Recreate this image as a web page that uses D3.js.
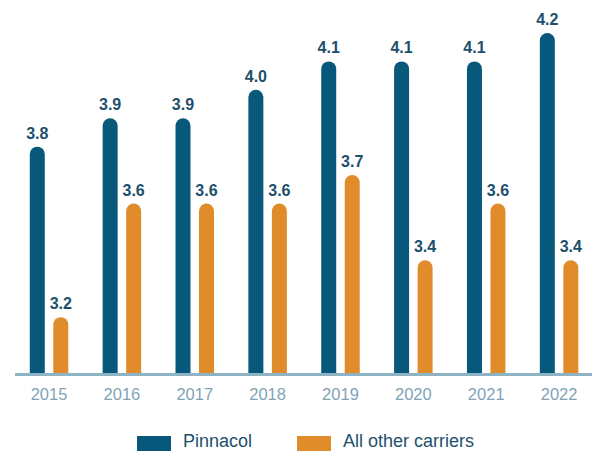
<!DOCTYPE html>
<html>
<head>
<meta charset="utf-8">
<script src="https://cdn.jsdelivr.net/npm/d3@7"></script>
<style>
  html, body { margin: 0; padding: 0; background: #fff; }
  svg { display: block; font-family: "Liberation Sans", Arial, sans-serif; }
</style>
</head>
<body>
<svg width="592" height="451"></svg>
<script>
// values
const years = ["2015", "2016", "2017", "2018", "2019", "2020", "2021", "2022"];
const pinnacol = [3.8, 3.9, 3.9, 4.0, 4.1, 4.1, 4.1, 4.2];
const otherCarriers = [3.2, 3.6, 3.6, 3.6, 3.7, 3.4, 3.6, 3.4];
const seriesNames = ["Pinnacol", "All other carriers"];
const seriesColors = ["#07587b", "#e08c2b"];

const svg = d3.select("svg");
const baseline = 374;

const data = years.map((y, i) => ({ year: y, values: [pinnacol[i], otherCarriers[i]] }));

const x0 = d3.scaleBand()
  .domain(years)
  .range([12.6, 595.5])
  .padding(0);

const half = 19.25;
const x1 = d3.scaleBand()
  .domain(seriesNames)
  .range([x0.bandwidth() / 2 - half, x0.bandwidth() / 2 + half])
  .paddingInner(0.362)
  .paddingOuter(0);

const yScale = d3.scaleLinear()
  .domain([3.0, 4.2])
  .range([baseline, 33]);

// bar with rounded top, square bottom
function roundTop(x, yTop, w, yBot) {
  const r = w / 2;
  return `M${x},${yBot} L${x},${yTop + r} A${r},${r} 0 0 1 ${x + w},${yTop + r} L${x + w},${yBot} Z`;
}

const groups = svg.selectAll("g.year").data(data)
  .enter().append("g")
    .attr("class", "year")
    .attr("transform", d => `translate(${x0(d.year)},0)`);

groups.selectAll("path").data(d => d.values.map((v, i) => ({ v, key: seriesNames[i], i })))
  .enter().append("path")
    .attr("d", d => roundTop(x1(d.key), yScale(d.v), x1.bandwidth(), baseline))
    .attr("fill", d => seriesColors[d.i]);

groups.selectAll("text.val").data(d => d.values.map((v, i) => ({ v, key: seriesNames[i] })))
  .enter().append("text")
    .attr("class", "val")
    .attr("x", d => x1(d.key) + x1.bandwidth() / 2)
    .attr("y", d => yScale(d.v) - 8)
    .attr("text-anchor", "middle")
    .attr("font-size", 16)
    .attr("font-weight", "bold")
    .attr("fill", "#1e4f6c")
    .text(d => d.v.toFixed(1));

// x axis
const xAxis = svg.append("g")
  .attr("transform", `translate(0,${baseline})`)
  .call(d3.axisBottom(x0).tickSize(0).tickPadding(14));
xAxis.select(".domain").remove();
xAxis.selectAll("text")
  .attr("font-size", 16.5)
  .attr("font-family", "Liberation Sans, Arial, sans-serif")
  .attr("fill", "#7fa3b6");
xAxis.append("line")
  .attr("x1", 15).attr("x2", 592)
  .attr("y1", 0.5).attr("y2", 0.5)
  .attr("stroke", "#8db3c4")
  .attr("stroke-width", 3);

// legend
const legendX = [137, 297];
const legend = svg.append("g");
seriesNames.forEach((name, i) => {
  legend.append("rect")
    .attr("x", legendX[i]).attr("y", 436)
    .attr("width", 34).attr("height", 15)
    .attr("fill", seriesColors[i]);
  legend.append("text")
    .attr("x", legendX[i] + 46).attr("y", 447)
    .attr("font-size", 18)
    .attr("fill", "#1e4f6c")
    .text(name);
});
</script>
</body>
</html>
